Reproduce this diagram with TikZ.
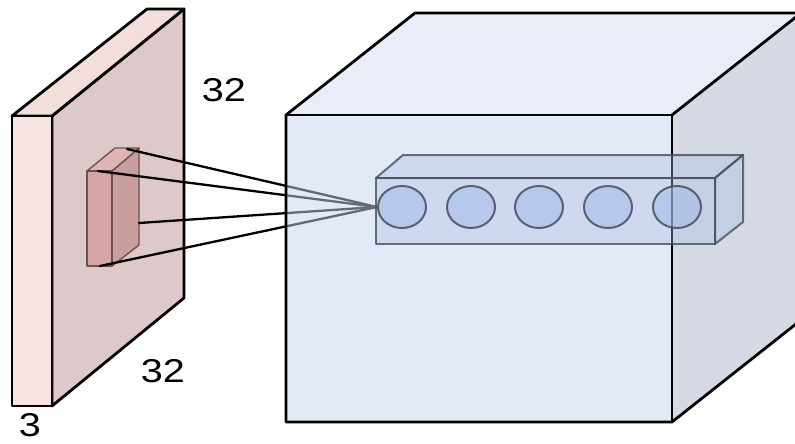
\documentclass[tikz,border=0pt]{standalone}
\usepackage{fontspec}
\setmainfont{Liberation Sans}
\usepackage{graphicx}
\definecolor{slabfront}{RGB}{249,228,228}
\definecolor{slabtop}{RGB}{244,222,220}
\definecolor{slabside}{RGB}{221,201,201}
\definecolor{rffront}{RGB}{214,166,166}
\definecolor{rftop}{RGB}{222,182,182}
\definecolor{rfside}{RGB}{200,158,158}
\definecolor{rfedge}{RGB}{110,80,80}
\definecolor{cubefront}{RGB}{199,213,241}
\definecolor{cubetop}{RGB}{211,221,241}
\definecolor{cubeside}{RGB}{171,181,201}
\definecolor{rowfill}{RGB}{170,190,228}
\definecolor{rowedge}{RGB}{70,78,92}
\definecolor{cellfill}{RGB}{160,185,232}
\tikzset{
  edge/.style={line width=2.8pt, line join=round},
  rfbox/.style={draw=rfedge, line width=1.4pt, line join=round},
  ray/.style={line width=2.3pt, line cap=round},
  rowbox/.style={draw=rowedge, draw opacity=0.8, line width=2pt, line join=round, fill=rowfill, fill opacity=0.35},
  cell/.style={draw=rowedge, draw opacity=0.85, line width=2pt, fill=cellfill, fill opacity=0.5},
  dimlabel/.style={font=\fontsize{33}{33}\selectfont, inner sep=0pt}
}
\begin{document}
\begin{tikzpicture}[x=1pt,y=-1pt]
\useasboundingbox (0,0) rectangle (795,444);
\fill[white] (0,0) rectangle (795,444);

% input volume: a thin slab, 3 channels deep
\coordinate (sA) at (12,116);
\coordinate (sB) at (52,116);
\coordinate (sC) at (52,406);
\coordinate (sD) at (12,406);
\coordinate (sE) at (147,9);
\coordinate (sF) at (184,9);
\coordinate (sG) at (184,298);
\draw[edge, fill=slabside] (sB) -- (sF) -- (sG) -- (sC) -- cycle;
\draw[edge, fill=slabtop] (sA) -- (sE) -- (sF) -- (sB) -- cycle;
\draw[edge, fill=slabfront] (sA) -- (sB) -- (sC) -- (sD) -- cycle;

% receptive field inside the input
\coordinate (rA) at (87,171);
\coordinate (rB) at (112,171);
\coordinate (rC) at (112,266);
\coordinate (rD) at (87,266);
\coordinate (rE) at (115,148);
\coordinate (rF) at (139,148);
\coordinate (rG) at (139,245);
\draw[rfbox, fill=rfside] (rB) -- (rF) -- (rG) -- (rC) -- cycle;
\draw[rfbox, fill=rftop] (rA) -- (rE) -- (rF) -- (rB) -- cycle;
\draw[rfbox, fill=rffront] (rA) -- (rB) -- (rC) -- (rD) -- cycle;

% rays from the receptive field to the first neuron
\coordinate (focus) at (377,207);
\coordinate (rM) at (139,223);
\draw[ray] (127,149) -- (focus);
\draw[ray] (98,171) -- (focus);
\draw[ray] (rM) -- (focus);
\draw[ray] (100,266) -- (focus);

% output volume
\coordinate (cA) at (286,115);
\coordinate (cB) at (672,115);
\coordinate (cC) at (672,422);
\coordinate (cD) at (286,422);
\coordinate (cE) at (415,13);
\coordinate (cF) at (801,13);
\coordinate (cG) at (801,320);
\fill[cubefront, opacity=0.5] (cA) -- (cB) -- (cC) -- (cD) -- cycle;
\fill[cubetop, opacity=0.5] (cA) -- (cE) -- (cF) -- (cB) -- cycle;
\fill[cubeside, opacity=0.5] (cB) -- (cF) -- (cG) -- (cC) -- cycle;
\draw[edge] (cA) -- (cE) -- (cF) -- (cG) -- (cC) -- (cD) -- cycle;
\draw[edge] (cA) -- (cB) -- (cC);
\draw[edge] (cB) -- (cF);

% column of neurons along the depth
\coordinate (bA) at (376,178);
\coordinate (bB) at (715,178);
\coordinate (bC) at (715,244);
\coordinate (bD) at (376,244);
\coordinate (bE) at (403,155);
\coordinate (bF) at (743,155);
\coordinate (bG) at (743,222);
\draw[rowbox] (bA) -- (bE) -- (bF) -- (bB) -- cycle;
\draw[rowbox] (bB) -- (bF) -- (bG) -- (bC) -- cycle;
\draw[rowbox] (bA) -- (bB) -- (bC) -- (bD) -- cycle;
\foreach \cx [count=\i] in {402,471,539,608,677}
  \draw[cell] (\cx,207) coordinate (n\i) ellipse [x radius=24pt, y radius=21pt];

% dimension labels
\node[dimlabel] (lblH) at (224,90) {\scalebox{1.2}[1]{32}};
\node[dimlabel] (lblW) at (163,371) {\scalebox{1.2}[1]{32}};
\node[dimlabel] (lblD) at (30,425) {\scalebox{1.2}[1]{3}};
\end{tikzpicture}
\end{document}
